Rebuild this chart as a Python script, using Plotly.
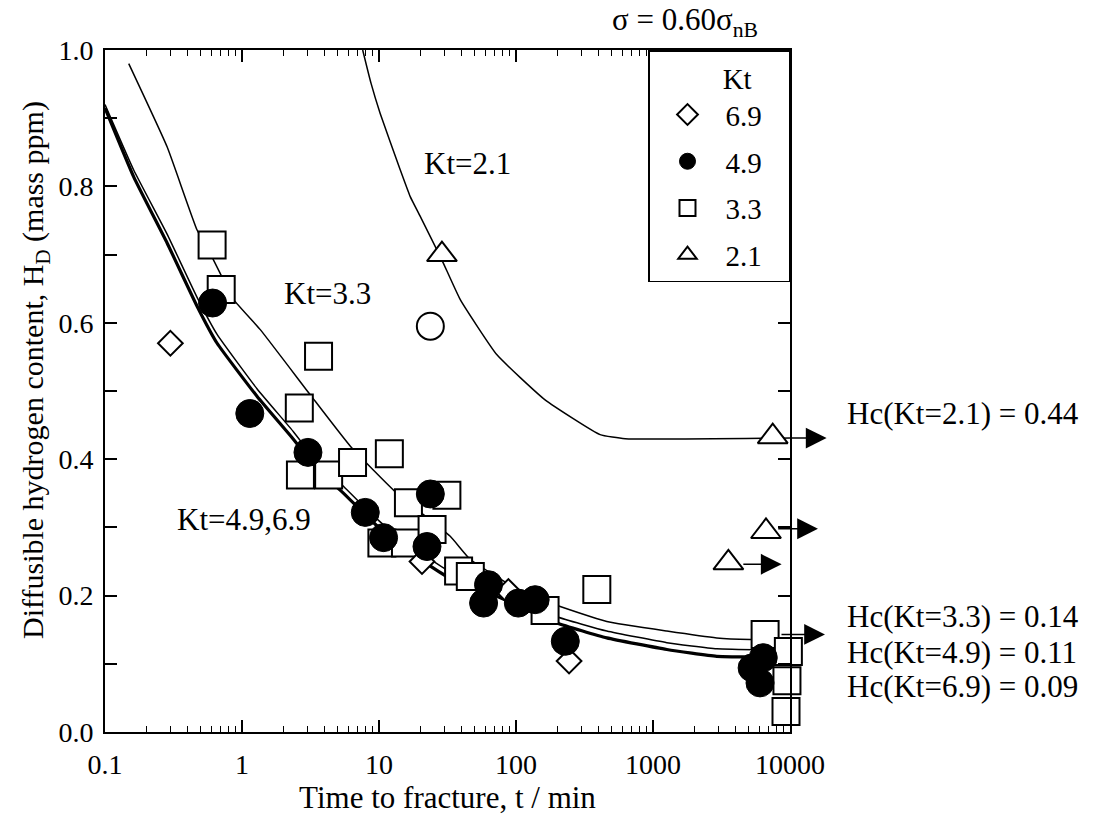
import numpy as np
import plotly.graph_objects as go

FONT = "Liberation Serif, Times New Roman, serif"

# ---------------- data (time to fracture t [min], diffusible hydrogen H_D [mass ppm]) -------------
# Kt = 6.9 (open diamonds)
t_kt69 = [0.30, 20.6, 88, 244]
h_kt69 = [0.570, 0.250, 0.206, 0.104]

# Kt = 4.9 (filled circles)
t_kt49 = [0.61, 1.14, 3.03, 7.94, 10.8, 23.7, 22.4, 63, 58, 104, 138, 229, 6380, 5290, 6040]
h_kt49 = [0.629, 0.467, 0.410, 0.322, 0.285, 0.349, 0.272, 0.216, 0.189, 0.189, 0.194, 0.133, 0.109, 0.094, 0.072]

# Kt = 3.3 (open squares)
t_kt33 = [0.605, 0.705, 3.62, 2.62, 2.67, 4.29, 6.41, 11.9, 16.4, 10.5, 15.6, 24.4, 31.3,
          38.1, 46.4, 163, 389, 6580, 9730, 9500, 9350]
h_kt33 = [0.714, 0.649, 0.551, 0.475, 0.377, 0.377, 0.395, 0.408, 0.336, 0.277, 0.277, 0.297, 0.347,
          0.236, 0.228, 0.178, 0.209, 0.143, 0.118, 0.075, 0.030]

# Kt = 2.1 (open triangles)
t_kt21 = [28.8, 7480, 6680, 3550]
h_kt21 = [0.700, 0.433, 0.294, 0.248]

# open circle (not in legend)
t_open = [23.7]
h_open = [0.595]

# legend labels
kt_labels = ["6.9", "4.9", "3.3", "2.1"]

# fitted curves
c21_t = [7.6, 8.75, 10.2, 14.3, 16.9, 20, 28.8, 39.2, 72.6, 163, 411, 627, 10000]
c21_h = [1.0, 0.951, 0.907, 0.824, 0.785, 0.756, 0.692, 0.634, 0.553, 0.487, 0.436, 0.430, 0.431]

c33_t = [0.149, 0.284, 0.47, 0.62, 0.87, 1.36, 3.16, 6.18, 13.5, 33.1, 46.4, 120, 210, 460, 1262, 2920, 5110, 10000]
c33_h = [0.980, 0.858, 0.736, 0.692, 0.634, 0.590, 0.494, 0.419, 0.350, 0.287, 0.253, 0.2015, 0.184, 0.162, 0.148, 0.138, 0.1355, 0.135]

c69_t = [0.1, 0.162, 0.284, 0.471, 0.658, 1.29, 2.38, 3.53, 5.52, 8.17, 13.5, 31.3, 72.6, 199, 460, 1262, 2920, 10000]
c69_h = [0.915, 0.814, 0.717, 0.624, 0.570, 0.492, 0.429, 0.385, 0.350, 0.316, 0.277, 0.228, 0.199, 0.160, 0.138, 0.121, 0.111, 0.110]
c49_t = [0.1, 0.162, 0.284, 0.471, 0.658, 1.29, 2.38, 3.53, 5.52, 8.17, 13.5, 31.3, 72.6, 199, 460, 1262, 2920, 10000]
c49_h = [0.920, 0.824, 0.730, 0.637, 0.583, 0.503, 0.440, 0.396, 0.360, 0.326, 0.287, 0.238, 0.209, 0.169, 0.148, 0.131, 0.122, 0.120]

# run-out arrows (start t, end t, H)
arrow_t0 = [10000, 8000, 4450, 8450, 11200, 11200, 11200, 11200, 11800]
arrow_t1 = [18500, 16000, 8690, 18000, 16600, 23200, 16600, 23200, 26600]
arrow_h = [0.431, 0.298, 0.246, 0.143, 0.118, 0.118, 0.077, 0.077, 0.028]

# axis ticks
y_tickvals = [0.0, 0.2, 0.4, 0.6, 0.8, 1.0]
y_ticktext = ["0.0", "0.2", "0.4", "0.6", "0.8", "1.0"]

# ---------------- figure -------------
fig = go.Figure()

for t, h, w in [(c21_t, c21_h, 1.5), (c33_t, c33_h, 1.5), (c49_t, c49_h, 1.5), (c69_t, c69_h, 3.2)]:
    fig.add_trace(go.Scatter(x=t, y=h, mode="lines", showlegend=False, hoverinfo="skip",
                             line=dict(color="black", width=w, shape="spline", smoothing=0.4)))

open_marker = dict(color="white", line=dict(color="black", width=2))
pad = "&nbsp;" * 3

fig.add_trace(go.Scatter(x=t_kt33, y=h_kt33, mode="markers", name=kt_labels[2] + pad, legendrank=3,
                         legendgroup="c", cliponaxis=False,
                         marker=dict(symbol="square", size=27, **open_marker)))
fig.add_trace(go.Scatter(x=t_kt21, y=h_kt21, mode="markers", name=kt_labels[3] + pad, legendrank=4,
                         legendgroup="d", cliponaxis=False,
                         marker=dict(symbol="triangle-up", size=26, **open_marker)))
fig.add_trace(go.Scatter(x=t_kt69, y=h_kt69, mode="markers", name=kt_labels[0] + pad, legendrank=1,
                         legendgroup="a", cliponaxis=False,
                         marker=dict(symbol="diamond", size=19, **open_marker)))
fig.add_trace(go.Scatter(x=t_open, y=h_open, mode="markers", showlegend=False, cliponaxis=False,
                         marker=dict(symbol="circle", size=27, **open_marker)))
fig.add_trace(go.Scatter(x=t_kt49, y=h_kt49, mode="markers", name=kt_labels[1] + pad, legendrank=2,
                         legendgroup="b", cliponaxis=False,
                         marker=dict(symbol="circle", size=28, color="black", line=dict(color="black", width=1))))

# arrows
for t0, t1, h in zip(arrow_t0, arrow_t1, arrow_h):
    fig.add_annotation(x=np.log10(t1), y=h, ax=np.log10(t0), ay=h, xref="x", yref="y", axref="x", ayref="y",
                       text="", showarrow=True, arrowhead=2, arrowsize=2.6, arrowwidth=1.6,
                       arrowcolor="black", standoff=0)


def tfont(size):
    return dict(family=FONT, size=size, color="black")


# curve labels
fig.add_annotation(x=np.log10(44.5), y=0.833, xref="x", yref="y", xanchor="center", text="Kt=2.1",
                   showarrow=False, font=tfont(31))
fig.add_annotation(x=np.log10(4.24), y=0.643, xref="x", yref="y", xanchor="center", text="Kt=3.3",
                   showarrow=False, font=tfont(31))
fig.add_annotation(x=np.log10(1.04), y=0.311, xref="x", yref="y", xanchor="center", text="Kt=4.9,6.9",
                   showarrow=False, font=tfont(31))

# Hc labels
for txt, yy in [("Hc(Kt=2.1) = 0.44", 0.467), ("Hc(Kt=3.3) = 0.14", 0.169),
                ("Hc(Kt=4.9) = 0.11", 0.117), ("Hc(Kt=6.9) = 0.09", 0.067)]:
    fig.add_annotation(x=1.081, y=yy, xref="paper", yref="y", xanchor="left", yanchor="middle",
                       text=txt, showarrow=False, font=tfont(31))

# stress label
fig.add_annotation(x=0.847, y=1.041, xref="paper", yref="paper", xanchor="center", yanchor="middle",
                   text="σ = 0.60σ<sub>nB</sub>", showarrow=False, font=tfont(31))

# y title
fig.add_annotation(x=-0.102, y=0.531, xref="paper", yref="paper", xanchor="center", yanchor="middle",
                   textangle=-90, text="Diffusible hydrogen content, H<sub>D</sub> (mass ppm)",
                   showarrow=False, font=tfont(30))

axis_common = dict(showline=True, linewidth=2, linecolor="black", mirror="ticks", showgrid=False,
                   zeroline=False, ticks="inside", tickcolor="black", tickwidth=1.5, ticklen=12,
                   tickfont=tfont(28))

fig.update_layout(
    width=1100, height=816,
    margin=dict(l=105, r=310, t=50, b=84),
    paper_bgcolor="white", plot_bgcolor="white",
    separators=".",
    font=dict(family=FONT, color="black"),
    xaxis=dict(type="log", range=[-1, 4], tickmode="linear", tick0=0, dtick=1, exponentformat="none",
               separatethousands=False,
               minor=dict(ticks="inside", ticklen=6, tickwidth=1.2, tickcolor="black", dtick="D1"),
               ticklabelstandoff=6,
               title=dict(text="Time to fracture, t / min", font=tfont(31), standoff=4),
               **axis_common),
    yaxis=dict(range=[0, 1], tickmode="array", tickvals=y_tickvals, ticktext=y_ticktext,
               minor=dict(ticks="inside", ticklen=12, tickwidth=1.5, tickcolor="black", dtick=0.1),
               ticklabelstandoff=4,
               **axis_common),
    legend=dict(x=1, xanchor="right", y=1, yanchor="top", bgcolor="white", bordercolor="black",
                borderwidth=1.5, font=tfont(29),
                title=dict(text="&nbsp;" * 5 + "Kt", side="top center", font=tfont(29)),
                itemwidth=66, tracegroupgap=6),
)

fig.write_html("out.html", config={"displayModeBar": False},
               post_script="document.body.style.margin='0';")
